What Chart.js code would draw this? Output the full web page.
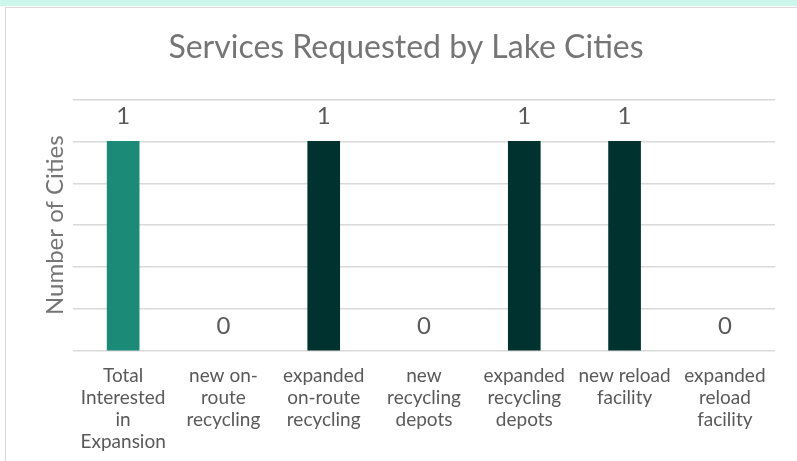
<!DOCTYPE html>
<html><head><meta charset="utf-8">
<script src="https://cdn.jsdelivr.net/npm/chart.js@4"></script>
<style>
html,body{margin:0;padding:0;background:#fff;width:797px;height:461px;overflow:hidden;}
#strip{position:absolute;left:0;top:0;width:797px;height:6px;background:#ccf5ec;}
#box{position:absolute;left:5px;top:7px;width:800px;height:470px;border:1px solid #d9d9d9;background:#fff;}
#wrap{position:absolute;left:6px;top:8px;width:791px;height:453px;}
</style></head>
<body>
<div id="strip"></div><div id="box"></div>
<div id="wrap"><canvas id="c"></canvas></div>
<script>
const categories = [
  ["Total","Interested","in","Expansion"],
  ["new on-","route","recycling"],
  ["expanded","on-route","recycling"],
  ["new","recycling","depots"],
  ["expanded","recycling","depots"],
  ["new reload","facility"],
  ["expanded","reload","facility"]
];
const cityCounts = [1, 0, 1, 0, 1, 1, 0];
const barColors = ["#1b8a77", "#00332f", "#00332f", "#00332f", "#00332f", "#00332f", "#00332f"];
const yTicks = [0, 0.2, 0.4, 0.6, 0.8, 1.0, 1.2];

const FONT = 'Lato, "Open Sans", sans-serif';

const valueLabels = {
  id: 'valueLabels',
  afterDatasetsDraw(chart) {
    const ctx = chart.ctx;
    const meta = chart.getDatasetMeta(0);
    ctx.save();
    ctx.font = '24px ' + FONT;
    ctx.fillStyle = '#595959';
    ctx.textAlign = 'center';
    ctx.textBaseline = 'middle';
    meta.data.forEach((bar, i) => {
      ctx.fillText(String(cityCounts[i]), bar.x, bar.y - 25);
    });
    ctx.restore();
  }
};

new Chart(document.getElementById('c'), {
  type: 'bar',
  data: {
    labels: categories,
    datasets: [{
      data: cityCounts,
      backgroundColor: (c) => (cityCounts[c.dataIndex] === 0 ? 'rgba(0,0,0,0)' : barColors[c.dataIndex]),
      barThickness: 32
    }]
  },
  options: {
    responsive: true,
    maintainAspectRatio: false,
    animation: false,
    layout: { padding: { left: 31, right: 22, top: 10, bottom: 0 } },
    plugins: {
      legend: { display: false },
      tooltip: { enabled: false },
      title: {
        display: true,
        text: 'Services Requested by Lake Cities',
        color: '#757575',
        font: { family: FONT, size: 32, weight: 'normal' },
        padding: { top: 10, bottom: 33 }
      }
    },
    scales: {
      x: {
        grid: { display: false, drawTicks: false },
        border: { display: false },
        ticks: {
          color: '#595959',
          font: { family: FONT, size: 19, lineHeight: '22px' },
          padding: 14,
          autoSkip: false,
          maxRotation: 0
        },
        afterFit(s) { s.height = 110; }
      },
      y: {
        min: 0, max: 1.2,
        afterBuildTicks(s) { s.ticks = yTicks.map(v => ({ value: v })); },
        grid: { color: '#d9d9d9', lineWidth: 1.5, drawTicks: false },
        border: { display: false },
        ticks: { display: false },
        title: {
          display: true,
          text: 'Number of Cities',
          color: '#757575',
          font: { family: FONT, size: 24 },
          padding: { top: 4, bottom: 4 }
        },
        afterFit(s) { s.width = 36; }
      }
    }
  },
  plugins: [valueLabels]
});
</script>
</body></html>
